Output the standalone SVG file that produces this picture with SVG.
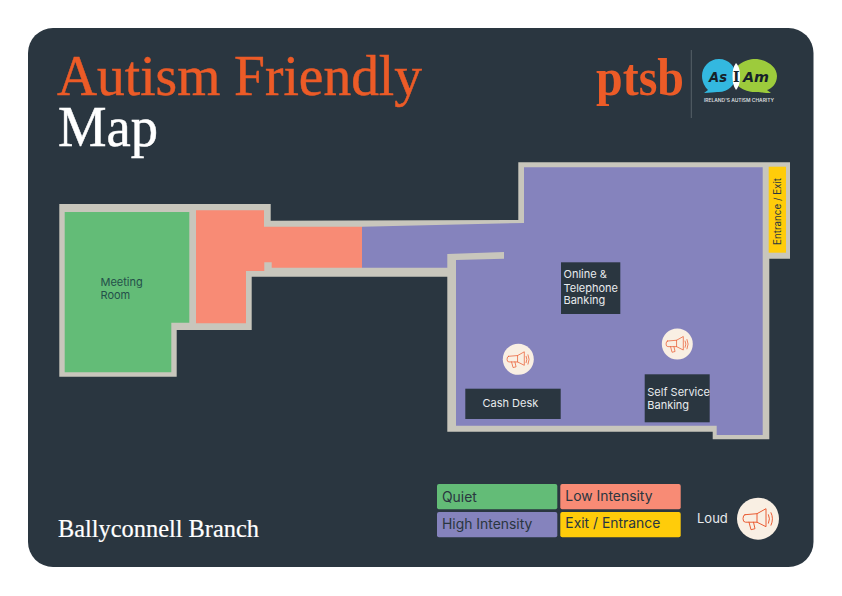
<svg xmlns="http://www.w3.org/2000/svg" width="842" height="596" viewBox="0 0 842 596">
<style>
.t{font-family:Inter,"Liberation Sans",sans-serif}
.s{font-family:"Liberation Serif",serif}
.box{fill:#2a3640}
.lbl{font-size:11px;fill:#e8ebee}
.leg{font-size:13.9px;fill:#2a3640}
.ico{fill:none;stroke:#ea5d34;stroke-width:1;stroke-linejoin:round;stroke-linecap:round}
.cream{fill:#f9efe3}
</style>
<defs>
<g id="mega">
<path class="ico" d="M-13,-4 L-1,-5 L8,-10 V8 L-1,3.5 H-12.5 Q-15,3.5 -15,0 Q-15,-4 -13,-4Z M-1,-5 V3.5 M-9,3.5 L-7,11 L-3,10 L-4.5,3.5 M10.5,-4 Q12.5,0 10.5,4.5 M13,-6 Q16,0 13,6.5"/>
</g>
</defs>
<rect width="842" height="596" fill="#fff"/>
<rect x="28" y="28" width="785.500" height="539" rx="25" fill="#2a3640"/>

<g id="title">
<text class="s" x="57" y="95" font-size="56" fill="#ec5b27" stroke="#ec5b27" stroke-width="0.500" textLength="365" lengthAdjust="spacingAndGlyphs">Autism Friendly</text>
<text class="s" x="58" y="146" font-size="56" fill="#fff" stroke="#fff" stroke-width="0.500" textLength="100" lengthAdjust="spacingAndGlyphs">Map</text>
<text class="s" x="58" y="537" font-size="24.500" fill="#fff" stroke="#fff" stroke-width="0.200" textLength="201" lengthAdjust="spacingAndGlyphs">Ballyconnell Branch</text>
</g>

<g id="logos">
<text class="s" x="596" y="95" font-size="53" font-weight="700" fill="#ec5b27" textLength="88" lengthAdjust="spacingAndGlyphs">ptsb</text>
<line x1="691.300" y1="50" x2="691.300" y2="118" stroke="#6a747b" stroke-width="0.700"/>
<path d="M719,59 C709,59 702,67 702,76 C702,82 705,87 708,90 L704,93 C710,93 714,92 717,92 C727,93 736,85 736,76 C736,67 729,59 719,59Z" fill="#33b8e0"/>
<path d="M755,59 C765,59 777,66 777,76 C777,84 771,89 767,90 L771,93 C765,93 760,92 757,92 C745,93 733,85 733,76 C733,66 745,59 755,59Z" fill="#9dcb3c"/>
<path d="M736,63 C733,67 732.500,71 732.500,76 C732.500,81 733,86 736,90 C739.500,86 740,81 740,76 C740,71 739.500,67 736,63Z" fill="#fff"/>
<text x="709" y="82" font-family="'DejaVu Sans',sans-serif" font-weight="700" font-style="italic" font-size="14" fill="#16222a" textLength="18" lengthAdjust="spacingAndGlyphs">As</text>
<text x="733" y="82" font-family="'DejaVu Serif',serif" font-weight="700" font-size="14" fill="#16222a">I</text>
<text x="743" y="82" font-family="'DejaVu Sans',sans-serif" font-weight="700" font-style="italic" font-size="14" fill="#16222a" textLength="26" lengthAdjust="spacingAndGlyphs">Am</text>
<text class="t" x="704" y="102" font-size="4.800" font-weight="600" fill="#d8dcdf" textLength="70" lengthAdjust="spacingAndGlyphs">IRELAND'S AUTISM CHARITY</text>
</g>

<g id="walls">
<path fill="#c8c6bc" d="M59.300,204 H270.700 V220.700 L518.300,220 V162.300 H790 V258.700 H769.300 V439.300 H712.700 V431.700 H447.300 V276.700 H251.700 V330 H176.700 V376.700 H59.300Z"/>
</g>
<g id="meeting-room">
<path fill="#63bc77" d="M64.700,212 H189.300 V322.700 H171.300 V372.300 H64.700Z"/>
<text class="t" font-size="11" fill="#24504a"><tspan x="100.500" y="286.300">Meeting</tspan><tspan x="100.500" y="299">Room</tspan></text>
</g>
<g id="low-intensity">
<path fill="#f88b75" d="M196,210.300 H264 V226.700 H362 V267.700 H271.700 V262.300 H264.300 V271 H246 V323.300 H196Z"/>
</g>
<g id="high-intensity">
<path fill="#8583bd" d="M362,226.700 L524,223 V167.300 H762.700 V435 H716.700 V425.700 H456 V260 L504,258.700 V252 L447.300,254 V267.700 H362Z"/>
</g>
<g id="entrance">
<rect x="768.700" y="166.700" width="17.300" height="86" fill="#ffcc0a"/>
<text class="t" transform="translate(781.300 245) rotate(-90)" font-size="9.800" fill="#2a3640">Entrance / Exit</text>
</g>
<g id="online-banking">
<rect class="box" x="561" y="262.300" width="59.300" height="51.700"/>
<text class="t lbl"><tspan x="563.500" y="278.300">Online &amp;</tspan><tspan x="563.500" y="291.500">Telephone</tspan><tspan x="563.500" y="304.300">Banking</tspan></text>
</g>
<g id="cash-desk">
<rect class="box" x="465.300" y="388.700" width="95.400" height="30.300"/>
<text class="t lbl" x="482.500" y="407">Cash Desk</text>
</g>
<g id="self-service">
<rect class="box" x="644.700" y="374.300" width="65" height="48"/>
<text class="t lbl"><tspan x="647.300" y="396">Self Service</tspan><tspan x="647.300" y="409">Banking</tspan></text>
</g>
<g id="loud-1">
<circle class="cream" cx="518.300" cy="359.300" r="15.500"/>
<use href="#mega" transform="translate(518.300 359.300) scale(0.75)"/>
</g>
<g id="loud-2">
<circle class="cream" cx="677.300" cy="344" r="15.500"/>
<use href="#mega" transform="translate(677.300 344) scale(0.75)"/>
</g>

<g id="legend">
<rect x="437" y="484" width="120.300" height="25.300" rx="2" fill="#63bc77"/>
<text class="t leg" x="442" y="501.500">Quiet</text>
<rect x="560.300" y="484" width="120.400" height="25.300" rx="2" fill="#f88b75"/>
<text class="t leg" x="565.300" y="500.500">Low Intensity</text>
<rect x="437" y="512" width="120.300" height="25.300" rx="2" fill="#8583bd"/>
<text class="t leg" x="442" y="529">High Intensity</text>
<rect x="560.300" y="512" width="120.400" height="25.300" rx="2" fill="#ffcc0a"/>
<text class="t leg" x="565.300" y="528">Exit / Entrance</text>
<text class="t" x="697" y="523" font-size="13" fill="#e8ebee">Loud</text>
<circle class="cream" cx="758" cy="518.700" r="21"/>
<use href="#mega" transform="translate(758 518.700)"/>
</g>
</svg>
